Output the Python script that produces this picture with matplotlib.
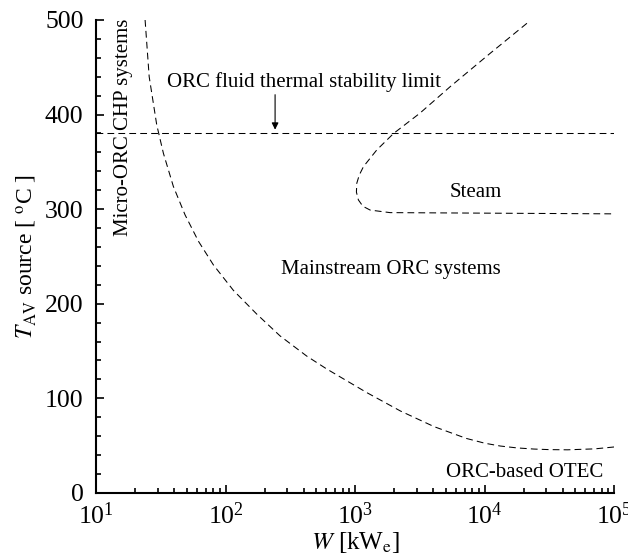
import matplotlib
matplotlib.use('Agg')
import matplotlib.pyplot as plt
from matplotlib.ticker import LogLocator, MultipleLocator

plt.rcParams['font.family'] = 'serif'
plt.rcParams['font.serif'] = ['Liberation Serif']
plt.rcParams['mathtext.fontset'] = 'stix'

# boundary between micro-ORC / mainstream ORC / OTEC
orc_W = [23.9, 25.7, 29.4, 33.1, 39.5, 48.6, 61.7, 80.5, 115, 174, 263, 424,
         603, 1230, 2240, 4070, 7240, 10000, 13200, 17800, 24000, 31600,
         43650, 70800, 100000]
orc_T = [500, 440, 389, 359, 324, 294, 266, 241, 214, 189, 166, 144.5,
         131, 106, 86.5, 70, 57.5, 52.5, 49.5, 47.5, 46.3, 45.7,
         45.5, 46.5, 48.5]

# steam region boundary
steam_W = [21200, 11040, 5420, 3160, 1980, 1470, 1160, 1076, 1030, 1023,
           1060, 1148, 1306, 1860, 100000]
steam_T = [496.5, 464.8, 429.5, 401.4, 380, 362.6, 345, 336, 327.4, 318,
           309.7, 303, 299, 296.3, 295]

# thermal stability limit of the ORC fluid
limit_T = 380
x_range = [10, 100000]

fig = plt.figure(figsize=(6.28, 5.55), dpi=100)
ax = fig.add_axes([0.153, 0.112, 0.825, 0.852])

dash = (0, (6.5, 4))
ax.plot(orc_W, orc_T, color='black', lw=0.75, linestyle=dash)
ax.plot(steam_W, steam_T, color='black', lw=0.75, linestyle=dash)
ax.plot(x_range, [limit_T, limit_T], color='black', lw=0.75, linestyle=dash)

ax.set_xscale('log')
ax.set_xlim(10, 100000)
ax.set_ylim(0, 500)

ax.spines['top'].set_visible(False)
ax.spines['right'].set_visible(False)
ax.spines['left'].set_linewidth(1.5)
ax.spines['bottom'].set_linewidth(1.5)

ax.yaxis.set_major_locator(MultipleLocator(100))
ax.yaxis.set_minor_locator(MultipleLocator(20))
ax.xaxis.set_major_locator(LogLocator(base=10))
ax.xaxis.set_minor_locator(LogLocator(base=10, subs=range(2, 10)))
ax.tick_params(which='both', direction='in', width=1.2, labelsize=18.5)
ax.tick_params(which='major', length=6)
ax.tick_params(axis='y', which='major', pad=9)
ax.tick_params(axis='x', which='major', pad=7)
ax.tick_params(which='minor', length=3.5)

ax.set_xlabel('$\\mathit{W}$ [kW$_\\mathrm{e}$]', fontsize=18, labelpad=1)
ax.set_ylabel('$\\mathit{T}_\\mathrm{AV}$ source [ $^\\mathrm{o}$C ]', fontsize=17, labelpad=4)

# labels in the chart
ax.text(16.4, 386, 'Micro-ORC CHP systems', rotation=90, fontsize=15,
        ha='center', va='center')
ax.text(1880, 236, 'Mainstream ORC systems', fontsize=15, ha='center', va='center')
ax.text(8590, 318, 'Steam', fontsize=15, ha='center', va='center')
ax.text(82200, 22, 'ORC-based OTEC', fontsize=15, ha='right', va='center')
ax.text(403, 434, 'ORC fluid thermal stability limit', fontsize=15,
        ha='center', va='center')
ax.annotate('', xy=(241, 384), xytext=(241, 421),
            arrowprops=dict(arrowstyle='-|>', color='black', lw=0.8,
                            shrinkA=0, shrinkB=0, mutation_scale=10))

fig.savefig('out.png', dpi=100)
